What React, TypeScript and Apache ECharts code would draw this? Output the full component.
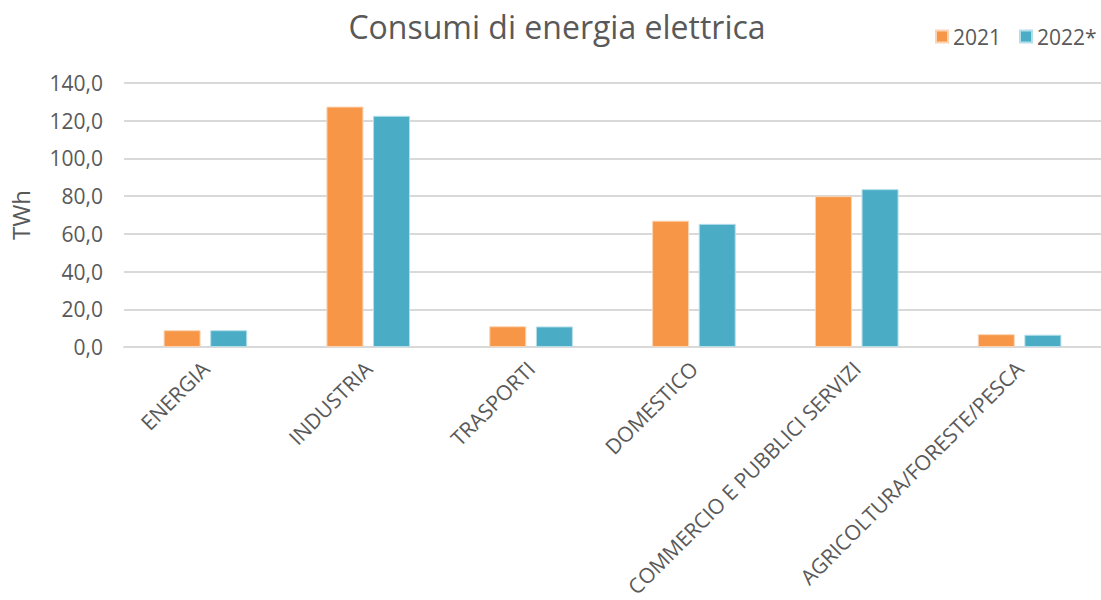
import React, { useEffect, useRef } from "react";
import * as echarts from "echarts";

const categories = [
  "ENERGIA",
  "INDUSTRIA",
  "TRASPORTI",
  "DOMESTICO",
  "COMMERCIO E PUBBLICI SERVIZI",
  "AGRICOLTURA/FORESTE/PESCA",
];
const values2021 = [8.9, 127.5, 11.0, 67.0, 80.0, 6.8];
const values2022 = [8.9, 122.6, 10.9, 65.3, 83.7, 6.5];
const seriesNames = ["2021", "2022*"];

const FONT = "'Open Sans', 'Noto Sans', sans-serif";
const TEXT = "#595959";

export default function App() {
  const ref = useRef<HTMLDivElement>(null);
  useEffect(() => {
    if (!ref.current) return;
    const chart = echarts.init(ref.current, null, { renderer: "svg" });
    chart.setOption({
      animation: false,
      backgroundColor: "#ffffff",
      title: {
        text: "Consumi di energia elettrica",
        left: 552,
        textAlign: "center",
        top: 5,
        textStyle: { fontFamily: FONT, fontSize: 32, fontWeight: "normal", color: TEXT },
      },
      legend: {
        top: 26,
        left: 935,
        padding: 0,
        itemWidth: 12,
        itemHeight: 12,
        itemGap: 18,
        icon: "rect",
        textStyle: { fontFamily: FONT, fontSize: 21, color: TEXT },
        data: seriesNames,
      },
      grid: { left: 120, width: 986, top: 83, bottom: 251, containLabel: false },
      xAxis: {
        type: "category",
        data: categories,
        axisLine: { show: true, lineStyle: { color: "#d9d9d9", width: 2 } },
        axisTick: { show: false },
        axisLabel: {
          rotate: 45,
          margin: 18,
          interval: 0,
          fontFamily: FONT,
          fontSize: 21,
          color: TEXT,
        },
      },
      yAxis: {
        type: "value",
        min: 0,
        max: 140,
        interval: 20,
        name: "TWh",
        nameLocation: "middle",
        nameRotate: 90,
        nameGap: 92,
        nameTextStyle: { fontFamily: FONT, fontSize: 24, color: TEXT },
        axisLine: { show: false },
        axisTick: { show: false },
        splitLine: { lineStyle: { color: "#d9d9d9", width: 2 } },
        axisLabel: {
          margin: 21,
          fontFamily: FONT,
          fontSize: 21,
          color: TEXT,
          formatter: (v: number) => v.toFixed(1).replace(".", ","),
        },
      },
      series: [
        {
          name: seriesNames[0],
          type: "bar",
          data: values2021,
          barWidth: 37,
          barGap: "26%",
          itemStyle: { color: "#F79646", borderColor: "#FAD4B5", borderWidth: 1 },
        },
        {
          name: seriesNames[1],
          type: "bar",
          data: values2022,
          barWidth: 37,
          barGap: "26%",
          itemStyle: { color: "#4BACC6", borderColor: "#B4DEE9", borderWidth: 1 },
        },
      ],
    });
    return () => chart.dispose();
  }, []);
  return <div ref={ref} style={{ width: 1101, height: 600, position: "absolute", left: 0, top: 0 }} />;
}
